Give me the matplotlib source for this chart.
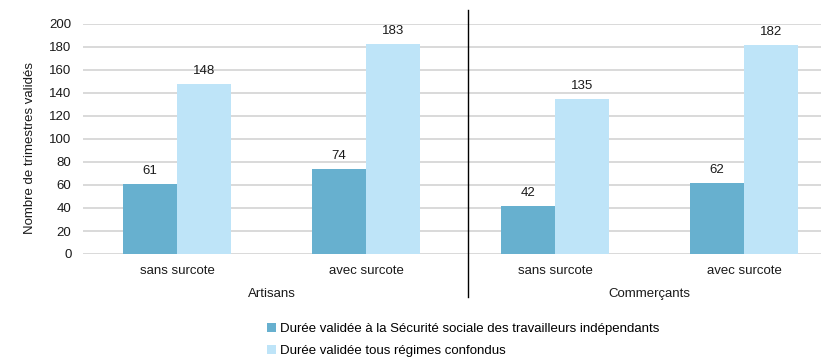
import numpy as np
import matplotlib.pyplot as plt

plt.rcParams['font.family'] = ['Liberation Sans', 'DejaVu Sans']

categories = ['sans surcote', 'avec surcote', 'sans surcote', 'avec surcote']
groups = ['Artisans', 'Commerçants']
duree_ssti = [61, 74, 42, 62]
duree_tous = [148, 183, 135, 182]
series_names = ['Durée validée à la Sécurité sociale des travailleurs indépendants',
                'Durée validée tous régimes confondus']
colors = ['#67B0CF', '#BEE4F8']

W, H = 821, 358
fig = plt.figure(figsize=(W / 100, H / 100), dpi=100)
# plot area runs past the right edge of the figure
left, right, top, bottom = 82.5, 838.5, 24, 254
ax = fig.add_axes([left / W, 1 - bottom / H, (right - left) / W, (bottom - top) / H])

x = np.arange(len(categories))
bw = 54 / 189
b1 = ax.bar(x - bw / 2, duree_ssti, bw, color=colors[0], label=series_names[0], zorder=2)
b2 = ax.bar(x + bw / 2, duree_tous, bw, color=colors[1], label=series_names[1], zorder=2)

for bars, vals in ((b1, duree_ssti), (b2, duree_tous)):
    for rect, v in zip(bars, vals):
        ax.annotate(str(v), (rect.get_x() + rect.get_width() / 2, v),
                    xytext=(0, 5), textcoords='offset points',
                    ha='center', va='bottom', fontsize=9.5, color='#1a1a1a')

ax.set_xlim(-0.5, 3.5)
ax.set_ylim(0, 200)
ax.set_yticks(range(0, 201, 20))
ax.yaxis.grid(True, color='#D9D9D9', linewidth=1.4, zorder=0)
ax.set_axisbelow(True)
for s in ax.spines.values():
    s.set_visible(False)
ax.tick_params(axis='y', length=0, pad=8, labelsize=9.5, labelcolor='#1a1a1a')
ax.set_xticks(x)
ax.set_xticklabels(categories)
ax.tick_params(axis='x', length=0, pad=8, labelsize=9.5, labelcolor='#1a1a1a')

# group labels under the categories
trans = ax.get_xaxis_transform()
for i, g in enumerate(groups):
    ax.text(2 * i + 0.5, -40 / 230, g, transform=trans, ha='center', va='center',
            fontsize=9.5, color='#1a1a1a')

# separator between the two groups
xsep = (468 - left) / 189 - 0.5
ax.plot([xsep, xsep], [(bottom - 10) / 230, -(297 - bottom) / 230], transform=trans,
        color='black', linewidth=1, clip_on=False)

fig.text(30 / W, 1 - 148 / H, 'Nombre de trimestres validés', rotation=90,
         ha='center', va='center', fontsize=9.5, color='#1a1a1a')

fig.legend(handles=[b1, b2], loc='upper left', bbox_to_anchor=(267 / W, 1 - 323 / H),
           frameon=False, fontsize=9.5, handlelength=0.7, handleheight=0.7,
           handletextpad=0.25, labelspacing=0.75, borderpad=0, borderaxespad=0)

fig.savefig('out.png', dpi=100)
